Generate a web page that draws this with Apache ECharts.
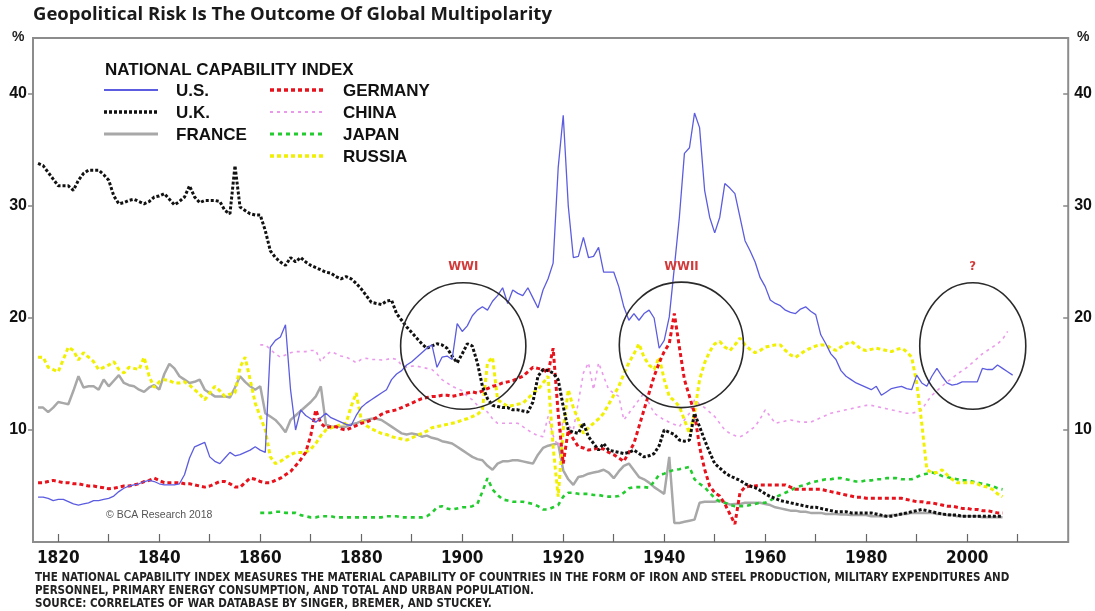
<!DOCTYPE html>
<html>
<head>
<meta charset="utf-8">
<title>Geopolitical Risk Is The Outcome Of Global Multipolarity</title>
<script src="https://cdn.jsdelivr.net/npm/echarts@6/dist/echarts.min.js"></script>
<style>
  html, body { margin: 0; padding: 0; background: #fff; }
  #chart { width: 1095px; height: 611px; }
</style>
</head>
<body>
<div id="chart"></div>
<script>
// national capability index, % share, one value per year
const usStart = 1816;
const usValues = [
  4.0, 4.0, 3.9, 3.7,
  3.8, 3.8, 3.6, 3.4, 3.3, 3.4, 3.5, 3.7, 3.7, 3.8,
  3.9, 4.1, 4.5, 4.8, 5.0, 5.1, 5.2, 5.4, 5.5, 5.4,
  5.2, 5.1, 5.1, 5.1, 5.2, 6.0, 7.5, 8.5, 8.7, 8.9,
  7.6, 7.2, 7.0, 7.5, 8.0, 7.7, 7.8, 8.0, 8.2, 8.5,
  8.2, 8.0, 17.4, 18.0, 18.3, 19.4, 13.6, 10.0, 11.8, 11.3,
  11.0, 10.7, 11.1, 11.5, 11.1, 10.9, 10.7, 10.5, 10.4, 11.3,
  12.0, 12.4, 12.7, 13.0, 13.3, 13.6, 14.5, 15.0, 15.3, 15.8,
  16.1, 16.5, 16.9, 17.3, 17.6, 15.6, 16.5, 16.6, 16.3, 19.5,
  18.8, 19.3, 20.2, 20.7, 21.0, 20.7, 21.5, 22.0, 22.7, 21.3,
  22.5, 22.2, 22.0, 22.7, 21.8, 20.9, 22.5, 23.5, 24.9, 33.4,
  38.1, 30.0, 25.4, 25.5, 27.2, 25.4, 25.5, 26.3, 24.1, 24.1,
  24.1, 22.8, 21.0, 19.8, 20.4, 19.8, 20.4, 20.7, 20.0, 17.3,
  18.0, 20.1, 24.5, 29.0, 34.7, 35.2, 38.3, 37.0, 31.4, 29.0,
  27.6, 29.0, 32.0, 31.6, 31.1, 29.0, 26.9, 26.0, 25.0, 23.6,
  22.8, 21.6, 21.3, 21.1, 20.7, 20.5, 20.4, 20.8, 21.0, 20.6,
  20.3, 18.5, 17.7, 16.8, 16.3, 15.3, 14.8, 14.5, 14.2, 14.0,
  13.8, 13.6, 13.9, 13.1, 13.4, 13.7, 13.8, 13.9, 13.7, 13.6,
  14.9, 14.2, 13.9, 14.8, 15.5, 14.8, 14.2, 14.0, 14.1, 14.3,
  14.3, 14.3, 14.3, 15.5, 15.4, 15.4, 15.8, 15.5, 15.2, 14.9
];

const ukStart = 1816;
const ukValues = [
  33.8, 33.6, 33.0, 32.4,
  31.8, 31.8, 31.8, 31.4, 32.3, 32.9, 33.2, 33.2, 33.2, 32.8,
  32.3, 30.9, 30.2, 30.3, 30.5, 30.6, 30.4, 30.2, 30.4, 30.8,
  30.9, 31.1, 30.6, 30.1, 30.4, 30.8, 31.8, 30.8, 30.3, 30.5,
  30.5, 30.5, 30.4, 29.6, 29.3, 33.6, 29.9, 29.6, 29.3, 29.2,
  29.2, 27.8, 26.0, 25.4, 25.0, 24.7, 25.4, 25.0, 25.4, 25.0,
  24.7, 24.5, 24.3, 24.1, 24.0, 23.7, 23.5, 23.7, 23.5, 23.1,
  22.6, 22.0, 21.4, 21.3, 21.2, 21.5, 21.6, 20.4, 19.8, 19.2,
  18.7, 18.2, 17.7, 17.3, 17.5, 17.7, 17.6, 17.3, 16.6, 16.0,
  16.8, 17.7, 17.5, 16.0, 13.9, 12.8, 12.2, 12.1, 12.0, 12.0,
  11.8, 11.8, 11.7, 11.6, 12.5, 14.8, 15.4, 15.3, 15.1, 14.5,
  12.1, 10.0, 9.8, 9.7, 10.6, 9.4, 8.8, 8.2, 8.8, 8.2,
  8.1, 8.0, 7.9, 8.0, 8.2, 7.9, 7.6, 7.7, 7.9, 8.6,
  10.0, 9.8, 9.6, 9.1, 9.0, 9.1, 11.5, 10.3, 9.1, 8.0,
  7.0, 6.6, 6.2, 5.9, 5.7, 5.5, 5.2, 5.0, 4.85, 4.6,
  4.3, 4.06, 3.9, 3.7, 3.6, 3.5, 3.4, 3.3, 3.2, 3.1,
  3.1, 3.0, 2.9, 2.8, 2.7, 2.7, 2.7, 2.6, 2.6, 2.6,
  2.6, 2.6, 2.5, 2.4, 2.3, 2.3, 2.4, 2.5, 2.6, 2.7,
  2.8, 2.9, 2.8, 2.7, 2.6, 2.5, 2.45, 2.4, 2.4, 2.3,
  2.3, 2.3, 2.3, 2.3, 2.3, 2.3, 2.3, 2.3
];

const franceStart = 1816;
const franceValues = [
  12.0, 12.0, 11.6, 12.0,
  12.5, 12.4, 12.3, 13.5, 14.8, 13.8, 13.9, 13.9, 13.6, 14.5,
  13.9, 14.4, 14.9, 14.2, 14.0, 13.9, 13.6, 13.4, 13.8, 14.0,
  13.6, 15.0, 15.9, 15.5, 14.8, 14.5, 14.2, 14.3, 14.5, 13.6,
  13.3, 13.0, 13.0, 13.0, 12.9, 13.8, 14.8, 14.3, 13.9, 13.6,
  13.9, 11.5, 11.2, 10.9, 10.4, 9.8, 10.9, 11.3, 11.7, 12.1,
  12.5, 13.0, 13.9, 10.5, 10.3, 10.3, 10.3, 10.3, 10.5, 10.6,
  10.8, 10.9, 11.0, 11.0, 10.9, 10.6, 10.3, 10.0, 9.7, 9.6,
  9.7, 9.6, 9.4, 9.5, 9.3, 9.2, 9.0, 8.9, 8.8, 8.5,
  8.2, 7.9, 7.6, 7.4, 7.3, 6.8, 6.45, 7.0, 7.2, 7.2,
  7.3, 7.3, 7.2, 7.1, 7.0, 7.8, 8.4, 8.6, 8.7, 8.8,
  6.4, 5.6, 5.1, 5.8, 5.9, 6.1, 6.2, 6.3, 6.45, 6.2,
  5.7, 6.3, 6.8, 7.0, 6.4, 5.8, 5.6, 5.3, 4.9, 4.6,
  4.3, 7.6, 1.7, 1.7, 1.8, 1.9, 2.0, 3.5, 3.6, 3.6,
  3.6, 3.7, 3.5, 3.35, 3.4, 3.4, 3.5, 3.5, 3.5, 3.5,
  3.4, 3.3, 3.1, 3.0, 2.9, 2.8, 2.8, 2.7, 2.7, 2.6,
  2.6, 2.6, 2.5, 2.5, 2.5, 2.45, 2.45, 2.4, 2.4, 2.4,
  2.4, 2.3, 2.3, 2.3, 2.3, 2.4, 2.4, 2.5, 2.5, 2.6,
  2.6, 2.6, 2.6, 2.6, 2.5, 2.5, 2.4, 2.4, 2.3, 2.3,
  2.3, 2.3, 2.3, 2.2, 2.2, 2.2, 2.2, 2.2
];

const germanyStart = 1816;
const germanyValues = [
  5.3, 5.3, 5.4, 5.5,
  5.4, 5.3, 5.3, 5.2, 5.2, 5.1, 5.0, 5.0, 4.9, 4.85,
  4.75, 4.8, 4.9, 5.0, 5.0, 5.1, 5.2, 5.4, 5.5, 5.7,
  5.5, 5.3, 5.3, 5.3, 5.3, 5.2, 5.2, 5.1, 5.0, 4.9,
  5.0, 5.2, 5.4, 5.4, 5.2, 4.9, 4.9, 5.3, 5.7, 5.6,
  5.4, 5.3, 5.3, 5.5, 5.7, 6.0, 6.3, 6.8, 7.35, 8.0,
  9.5, 11.8, 10.6, 10.2, 10.3, 10.3, 10.1, 10.0, 10.2, 10.4,
  10.6, 10.7, 10.9, 11.1, 11.4, 11.6, 11.7, 11.8, 12.0, 12.2,
  12.4, 12.6, 12.8, 12.9, 13.0, 13.0, 13.1, 13.1, 13.0, 13.1,
  13.2, 13.3, 13.4, 13.3, 13.5, 13.7, 13.9, 14.0, 14.2, 14.3,
  14.4, 14.6, 14.8, 15.2, 15.6, 15.5, 15.4, 15.1, 17.3, 11.5,
  7.0, 10.0, 9.2, 8.5, 8.4, 8.2, 8.3, 8.4, 8.3, 8.0,
  7.8, 7.5, 7.2, 8.0, 8.8, 10.3, 11.8, 13.3, 14.8, 16.0,
  17.0, 17.7, 20.4, 17.4, 14.5, 13.0, 11.5, 8.5, 6.5, 5.0,
  4.4, 4.1, 3.4, 2.5, 1.6, 4.4, 4.9, 5.0, 5.0, 5.1,
  5.1, 5.1, 5.1, 5.1, 5.1, 4.9, 4.7, 4.7, 4.7, 4.7,
  4.7, 4.7, 4.6, 4.5, 4.4, 4.3, 4.2, 4.1, 4.0, 4.0,
  3.9, 3.9, 3.9, 3.9, 3.9, 3.9, 3.9, 3.9, 3.8, 3.7,
  3.6, 3.6, 3.5, 3.5, 3.4, 3.3, 3.2, 3.2, 3.1, 3.0,
  3.0, 2.9, 2.9, 2.8, 2.8, 2.7, 2.6, 2.6
];

const chinaStart = 1860;
const chinaValues = [
  17.6, 17.6, 17.2, 16.8, 16.5, 16.7, 16.9, 17.0, 17.0, 17.0,
  17.1, 17.1, 16.1, 16.7, 17.0, 16.8, 16.6, 16.5, 16.3, 16.0,
  16.3, 16.4, 16.3, 16.3, 16.25, 16.3, 16.4, 16.3, 15.8, 15.6,
  15.7, 15.7, 15.6, 15.5, 15.4, 15.0, 14.5, 14.2, 13.9, 13.7,
  13.5, 13.0, 12.7, 12.2, 12.0, 11.6, 11.0, 10.6, 10.6, 10.6,
  10.6, 10.6, 10.3, 10.0, 9.7, 9.5, 9.4, 11.2, 9.5, 8.5,
  10.9, 10.4, 10.0, 12.5, 15.1, 16.0, 13.6, 16.0, 14.8, 13.6,
  13.3, 13.0, 10.9, 11.5, 12.1, 12.7, 13.3, 12.4, 11.5, 11.2,
  10.9, 10.7, 10.5, 10.3, 10.9, 11.5, 12.7, 12.3, 12.0, 11.6,
  11.2, 10.6, 10.0, 9.7, 9.5, 9.4, 9.6, 10.0, 10.3, 11.0,
  11.8, 11.2, 10.6, 10.7, 10.8, 10.9, 10.8, 10.7, 10.7, 10.7,
  10.9, 11.1, 11.3, 11.5, 11.6, 11.7, 11.8, 11.9, 12.0, 12.1,
  12.2, 12.2, 12.1, 12.0, 11.9, 11.8, 11.7, 11.6, 11.5, 11.5,
  11.6, 11.8, 12.5, 13.1, 13.5, 13.9, 14.3, 14.6, 15.0, 15.3,
  15.6, 16.0, 16.4, 16.8, 17.1, 17.4, 17.7, 18.1, 18.8
];

const japanStart = 1860;
const japanValues = [
  2.6, 2.6, 2.6, 2.7, 2.7, 2.6, 2.6, 2.6, 2.4, 2.3,
  2.2, 2.2, 2.3, 2.3, 2.3, 2.2, 2.2, 2.2, 2.2, 2.2,
  2.2, 2.2, 2.2, 2.2, 2.2, 2.3, 2.3, 2.3, 2.2, 2.2,
  2.2, 2.2, 2.2, 2.3, 2.6, 3.1, 3.2, 3.0, 2.9, 3.0,
  3.1, 3.1, 3.2, 3.4, 4.5, 5.7, 4.7, 4.2, 3.8, 3.7,
  3.6, 3.6, 3.6, 3.5, 3.4, 3.2, 2.9, 2.9, 3.1, 3.3,
  4.05, 4.4, 4.4, 4.3, 4.3, 4.3, 4.2, 4.2, 4.1, 4.05,
  4.05, 4.1, 4.4, 4.8, 4.9, 4.9, 4.9, 4.85, 5.4, 6.0,
  6.1, 6.3, 6.45, 6.5, 6.6, 6.7, 5.6, 5.2, 4.9, 4.4,
  3.9, 3.6, 3.5, 3.3, 3.2, 3.2, 3.2, 3.3, 3.4, 3.5,
  3.5, 3.7, 4.0, 4.2, 4.4, 4.6, 4.85, 5.0, 5.1, 5.3,
  5.4, 5.5, 5.6, 5.6, 5.7, 5.7, 5.6, 5.5, 5.4, 5.4,
  5.5, 5.5, 5.6, 5.6, 5.7, 5.7, 5.7, 5.6, 5.6, 5.6,
  5.8, 6.0, 6.1, 6.2, 6.1, 5.9, 5.8, 5.7, 5.6, 5.5,
  5.5, 5.4, 5.3, 5.2, 5.1, 5.0, 4.8, 4.7
];

const russiaStart = 1816;
const russiaValues = [
  16.5, 16.5, 15.6, 15.4,
  15.2, 16.3, 17.4, 17.1, 16.25, 16.9, 16.5, 16.1, 15.4, 15.6,
  15.8, 16.1, 15.4, 15.1, 15.6, 15.5, 15.4, 16.5, 14.8, 13.8,
  14.3, 14.5, 14.4, 14.2, 14.2, 14.3, 14.0, 13.6, 13.2, 12.7,
  13.3, 13.9, 13.5, 13.0, 13.2, 13.3, 15.6, 16.5, 14.5, 12.4,
  11.2, 10.0, 7.6, 7.0, 7.2, 7.5, 7.8, 8.0, 8.0, 8.0,
  8.3, 8.8, 9.5, 10.0, 10.2, 10.3, 10.5, 10.6, 12.1, 13.3,
  10.9, 10.4, 10.1, 9.9, 9.7, 9.6, 9.4, 9.3, 9.2, 9.1,
  9.3, 9.5, 9.7, 9.9, 10.2, 10.3, 10.4, 10.5, 10.6, 10.7,
  10.9, 11.0, 11.2, 11.4, 11.8, 16.0, 16.5, 12.7, 12.4, 12.1,
  12.2, 12.3, 12.4, 12.8, 13.3, 13.6, 14.2, 14.8, 8.5, 4.05,
  10.0, 13.6, 12.0, 10.9, 9.7, 10.2, 10.6, 11.0, 11.5, 12.3,
  13.1, 13.9, 15.0, 16.0, 16.8, 17.7, 16.5, 15.8, 15.4, 16.5,
  14.5, 13.0, 12.6, 12.1, 10.9, 9.7, 11.5, 14.5, 16.0, 17.0,
  17.7, 17.9, 17.4, 17.1, 17.6, 18.2, 17.6, 17.2, 16.9, 17.1,
  17.4, 17.5, 17.6, 17.6, 17.1, 16.7, 16.5, 16.8, 17.1, 17.3,
  17.5, 17.6, 17.6, 17.3, 17.1, 17.4, 17.7, 17.9, 17.6, 17.2,
  17.1, 17.2, 17.3, 17.2, 17.1, 17.0, 17.2, 17.3, 17.0, 16.5,
  14.2, 10.6, 6.45, 6.2, 6.2, 6.45, 6.0, 5.6, 5.3, 5.3,
  5.3, 5.3, 5.2, 5.0, 4.9, 4.7, 4.3, 4.05
];

const xTickYears = [1820, 1830, 1840, 1850, 1860, 1870, 1880, 1890, 1900, 1910,
                    1920, 1930, 1940, 1950, 1960, 1970, 1980, 1990, 2000, 2010];
const xLabelYears = [1820, 1840, 1860, 1880, 1900, 1920, 1940, 1960, 1980, 2000];
const yTickValues = [10, 20, 30, 40];

// annotations: label, circle centre in data units, circle half-size in data units
const eventNames = ['WWI', 'WWII', '?'];
const eventCenters = [[1900.2, 17.5], [1943.4, 17.6], [2001.1, 17.5]];
const eventRadii = [[12.4, 5.65], [12.3, 5.6], [10.5, 5.65]];

const footnoteLines = [
  'THE NATIONAL CAPABILITY INDEX MEASURES THE MATERIAL CAPABILITY OF COUNTRIES IN THE FORM OF IRON AND STEEL PRODUCTION, MILITARY EXPENDITURES AND',
  'PERSONNEL, PRIMARY ENERGY CONSUMPTION, AND TOTAL AND URBAN POPULATION.',
  'SOURCE: CORRELATES OF WAR DATABASE BY SINGER, BREMER, AND STUCKEY.'
];

function toPairs(start, values) {
  return values.map((v, i) => [start + i, v]);
}

const narrow = "'Liberation Sans Narrow', 'DejaVu Sans Condensed', 'Arial Narrow', sans-serif";
const arial = "'Liberation Sans', Arial, sans-serif";

// drawing order: last is on top
const countries = [
  { name: 'FRANCE',  start: franceStart,  values: franceValues,  color: '#a8a8a8', width: 2.5, dash: 'solid', legend: [0, 2] },
  { name: 'CHINA',   start: chinaStart,   values: chinaValues,   color: '#eb9aeb', width: 1.6, dash: [3, 4], legend: [1, 1] },
  { name: 'JAPAN',   start: japanStart,   values: japanValues,   color: '#22cc2e', width: 2.6, dash: [4, 4], legend: [1, 2] },
  { name: 'RUSSIA',  start: russiaStart,  values: russiaValues,  color: '#f0f000', width: 3,   dash: [4, 3], legend: [1, 3] },
  { name: 'GERMANY', start: germanyStart, values: germanyValues, color: '#e8121c', width: 3,   dash: [4, 3], legend: [1, 0] },
  { name: 'U.K.',    start: ukStart,      values: ukValues,      color: '#111111', width: 3,   dash: [3, 2], legend: [0, 1] },
  { name: 'U.S.',    start: usStart,      values: usValues,      color: '#5c5ce0', width: 1.3, dash: 'solid', legend: [0, 0] }
];

const chart = echarts.init(document.getElementById('chart'), null, { renderer: 'canvas' });

function makeYAxis(position, tickInside) {
  return {
    type: 'value',
    position: position,
    min: 0,
    max: 45,
    interval: 10,
    axisLine: { show: false },
    splitLine: { show: false },
    axisTick: { show: true, inside: tickInside, length: 5, customValues: yTickValues, lineStyle: { color: '#888', width: 1.5 } },
    axisLabel: {
      customValues: yTickValues,
      color: '#111',
      fontFamily: arial,
      fontWeight: 'bold',
      fontSize: 16,
      margin: 6
    }
  };
}

// legend drawn by hand to match the two-column box of the original
const legendGraphics = [];
legendGraphics.push({
  type: 'text', left: 105, top: 62,
  style: { text: 'NATIONAL CAPABILITY INDEX', font: 'bold 17px ' + arial, fill: '#111' }
});
const colSampleX = [104, 270];
const colLabelX = [176, 343];
const rowY = [94, 116, 138, 160];
countries.forEach(c => {
  const col = c.legend[0], row = c.legend[1];
  const y = rowY[row];
  legendGraphics.push({
    type: 'line',
    shape: { x1: colSampleX[col], y1: y - 4, x2: colSampleX[col] + 54, y2: y - 4 },
    style: { stroke: c.color, lineWidth: c.width + 0.6, lineDash: c.dash === 'solid' ? null : c.dash }
  });
  legendGraphics.push({
    type: 'text', left: colLabelX[col], top: y - 11,
    style: { text: c.name, font: 'bold 17px ' + arial, fill: '#111' }
  });
});

const textGraphics = [
  { type: 'text', left: 33, top: 5,
    style: { text: 'Geopolitical Risk Is The Outcome Of Global Multipolarity', font: 'bold 18.5px "Open Sans", sans-serif', fill: '#1a1a1a' } },
  { type: 'text', left: 12, top: 30, style: { text: '%', font: 'bold 14px ' + arial, fill: '#222' } },
  { type: 'text', left: 1077, top: 30, style: { text: '%', font: 'bold 14px ' + arial, fill: '#222' } },
  { type: 'text', left: 106, top: 510, style: { text: '\u00A9 BCA Research 2018', font: '10.5px ' + arial, fill: '#555' } }
];
footnoteLines.forEach((t, i) => {
  textGraphics.push({
    type: 'text', left: 35, top: 572 + i * 13,
    style: { text: t, font: 'bold 11.5px ' + narrow, fill: '#222' }
  });
});

const option = {
  animation: false,
  backgroundColor: '#fff',
  grid: {
    left: 33, right: 24, top: 38, bottom: 69,
    show: true, borderColor: '#8c8c8c', borderWidth: 2, backgroundColor: 'transparent'
  },
  xAxis: {
    type: 'value',
    min: 1815,
    max: 2020,
    axisLine: { show: false },
    splitLine: { show: false },
    axisTick: {
      show: true, inside: true, length: 8,
      customValues: xTickYears,
      lineStyle: { color: '#666', width: 1.2 }
    },
    axisLabel: {
      customValues: xLabelYears,
      formatter: v => String(v),
      color: '#111',
      fontFamily: narrow,
      fontWeight: 'bold',
      fontSize: 17,
      margin: 8
    }
  },
  yAxis: [makeYAxis('left', false), makeYAxis('right', true)],
  series: countries.map(c => ({
    name: c.name,
    type: 'line',
    data: toPairs(c.start, c.values),
    showSymbol: false,
    symbol: 'none',
    smooth: false,
    lineStyle: { color: c.color, width: c.width, type: c.dash },
    emphasis: { disabled: true }
  })),
  graphic: legendGraphics.concat(textGraphics)
};

chart.setOption(option);

// event circles and labels placed through the axes
const eventGraphics = [];
eventCenters.forEach((ctr, i) => {
  const p = chart.convertToPixel({ gridIndex: 0 }, ctr);
  const edge = chart.convertToPixel({ gridIndex: 0 }, [ctr[0] + eventRadii[i][0], ctr[1] + eventRadii[i][1]]);
  const rx = Math.abs(edge[0] - p[0]);
  const ry = Math.abs(edge[1] - p[1]);
  eventGraphics.push({
    type: 'ellipse',
    shape: { cx: p[0], cy: p[1], rx: rx, ry: ry },
    style: { fill: 'none', stroke: '#2a2a2a', lineWidth: 1.6 },
    z: 10
  });
  eventGraphics.push({
    type: 'text',
    x: p[0], y: p[1] - ry - 16,
    style: { text: eventNames[i], font: 'bold 13px ' + narrow, fill: '#d23a3a', align: 'center', verticalAlign: 'middle' },
    z: 10
  });
});
chart.setOption({ graphic: legendGraphics.concat(textGraphics, eventGraphics) });
</script>
</body>
</html>
